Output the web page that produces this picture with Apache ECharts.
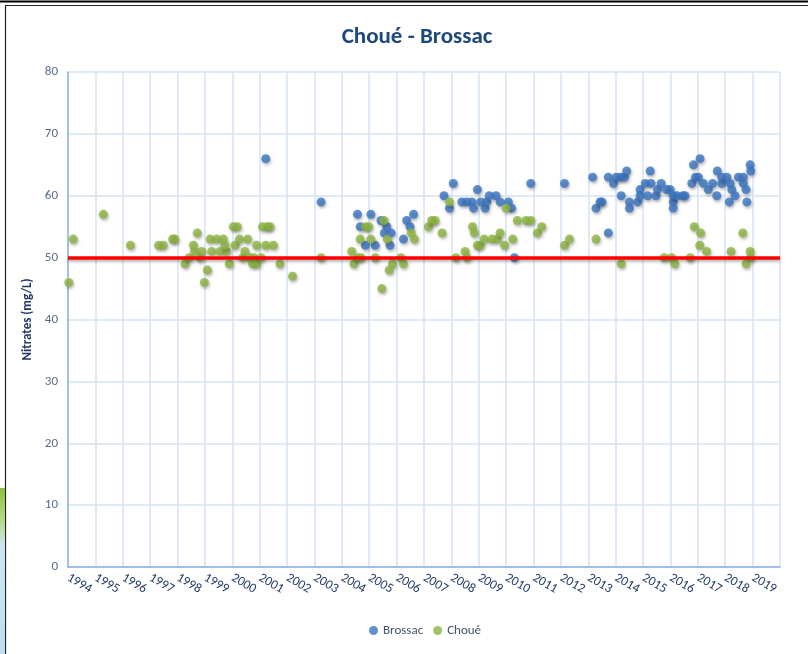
<!DOCTYPE html>
<html>
<head>
<meta charset="utf-8">
<script src="https://cdn.jsdelivr.net/npm/echarts@6/dist/echarts.min.js"></script>
<style>
    html, body {margin: 0; padding: 0; background: #fff;}
    #chart {width: 808px; height: 654px;}
</style>
</head>
<body>
<div id="chart"></div>
<script>
// Brossac (dates as decimal years)
const brossacYears = [
    2001.22, 2003.24, 2004.57, 2004.67, 2004.86, 2005.06, 2005.22, 2005.43, 2005.64, 2005.55,
    2005.80, 2005.76, 2006.25, 2006.37, 2006.49, 2006.62, 2007.73, 2007.93, 2008.07, 2008.38,
    2008.56, 2008.75, 2008.81, 2008.95, 2009.07, 2009.23, 2009.29, 2009.38, 2009.63, 2009.78,
    2010.08, 2010.20, 2010.30, 2010.90, 2012.13, 2013.16, 2013.28, 2013.43, 2013.50, 2013.73,
    2013.73, 2013.92, 2014.02, 2014.17, 2014.32, 2014.40, 2014.20, 2014.50, 2014.50, 2014.80,
    2014.89, 2014.89, 2015.08, 2015.26, 2015.17, 2015.29, 2015.47, 2015.53, 2015.66, 2015.86,
    2015.99, 2016.10, 2016.10, 2016.10, 2016.23, 2016.45, 2016.53, 2016.78, 2016.84, 2017.08,
    2016.91, 2017.02, 2017.20, 2017.38, 2017.54, 2017.71, 2017.69, 2017.87, 2017.87, 2018.06,
    2018.18, 2018.24, 2018.15, 2018.36, 2018.48, 2018.66, 2018.66, 2018.76, 2018.79, 2018.91,
    2018.93
];
const brossacValues = [
    66, 59, 57, 55, 52, 57, 52, 56, 55, 54,
    54, 52, 53, 56, 55, 57, 60, 58, 62, 59,
    59, 59, 58, 61, 59, 58, 59, 60, 60, 59,
    59, 58, 50, 62, 62, 63, 58, 59, 59, 54,
    63, 62, 63, 63, 63, 64, 60, 59, 58, 59,
    61, 60, 62, 64, 60, 62, 60, 61, 62, 61,
    61, 59, 58, 60, 60, 60, 60, 62, 65, 66,
    63, 63, 62, 61, 62, 64, 60, 62, 63, 63,
    62, 61, 59, 60, 63, 63, 62, 61, 59, 65,
    64
];

// Choué
const choueYears = [
    1994.03, 1994.19, 1995.29, 1996.28, 1997.31, 1997.48, 1997.82, 1997.90, 1998.27, 1998.42,
    1998.58, 1998.62, 1998.72, 1998.82, 1998.89, 1998.98, 1999.09, 1999.19, 1999.43, 1999.67,
    1999.25, 1999.55, 1999.79, 1999.73, 1999.89, 2000.04, 2000.18, 2000.10, 2000.26, 2000.38,
    2000.46, 2000.56, 2000.64, 2000.79, 2000.74, 2000.89, 2000.89, 2001.05, 2001.10, 2001.28,
    2001.38, 2001.22, 2001.50, 2001.74, 2002.20, 2003.24, 2004.36, 2004.44, 2004.57, 2004.70,
    2004.86, 2004.98, 2004.67, 2005.06, 2005.22, 2005.54, 2005.66, 2005.46, 2005.85, 2005.73,
    2006.16, 2006.25, 2006.53, 2006.65, 2007.16, 2007.28, 2007.40, 2007.66, 2007.93, 2008.17,
    2008.50, 2008.56, 2008.77, 2008.84, 2008.95, 2009.05, 2009.20, 2009.48, 2009.68, 2009.78,
    2009.94, 2010.00, 2010.24, 2010.41, 2010.73, 2010.90, 2011.14, 2011.30, 2012.13, 2012.31,
    2013.28, 2014.20, 2015.77, 2016.04, 2016.16, 2016.72, 2016.87, 2017.10, 2017.07, 2017.32,
    2018.21, 2018.64, 2018.91, 2018.93, 2018.76
];
const choueValues = [
    46, 53, 57, 52, 52, 52, 53, 53, 49, 50,
    52, 51, 54, 50, 51, 46, 48, 53, 53, 53,
    51, 51, 51, 52, 49, 55, 55, 52, 53, 50,
    51, 53, 50, 50, 49, 49, 52, 50, 55, 55,
    55, 52, 52, 49, 47, 50, 51, 49, 50, 50,
    55, 55, 53, 53, 50, 56, 53, 45, 49, 48,
    50, 49, 54, 53, 55, 56, 56, 54, 59, 50,
    51, 50, 55, 54, 52, 52, 53, 53, 53, 54,
    52, 58, 53, 56, 56, 56, 54, 55, 52, 53,
    53, 49, 50, 50, 49, 50, 55, 54, 52, 51,
    51, 54, 51, 50, 49
];

const seuil = 50;
const yearMin = 1994;
const yearMax = 2020;

const font = 'Carlito, "Liberation Sans Narrow", "DejaVu Sans Condensed", sans-serif';
const zip = (xs, ys) => xs.map((x, i) => [x, ys[i]]);
const shadow = {shadowBlur: 3, shadowColor: 'rgba(0,0,0,0.35)', shadowOffsetX: 1, shadowOffsetY: 2};

const chart = echarts.init(document.getElementById('chart'));
chart.setOption({
    animation: false,
    backgroundColor: '#fff',
    title: {
        text: 'Choué - Brossac',
        left: 412,
        top: 21,
        textAlign: 'center',
        textStyle: {fontFamily: font, fontSize: 23, fontWeight: 'bold', color: '#1F497D'}
    },
    legend: {
        bottom: 12,
        left: 364,
        icon: 'circle',
        itemWidth: 9,
        itemHeight: 9,
        itemGap: 10,
        textStyle: {fontFamily: font, fontSize: 13, color: '#44546A'},
        data: ['Brossac', 'Choué']
    },
    grid: {left: 68, right: 28, top: 72, bottom: 87, containLabel: false},
    xAxis: {
        type: 'value',
        min: yearMin,
        max: yearMax,
        interval: 1,
        axisLine: {show: true, onZero: false, lineStyle: {color: '#8DB3E2', width: 1.5}},
        axisTick: {show: false},
        splitLine: {show: true, lineStyle: {color: '#D6E3F3', width: 1.5}},
        axisLabel: {
            rotate: -30,
            margin: 10,
            fontFamily: font,
            fontSize: 13,
            color: '#1F3864',
            formatter: v => (v < yearMax ? String(v) : '')
        }
    },
    yAxis: {
        type: 'value',
        min: 0,
        max: 80,
        interval: 10,
        name: 'Nitrates (mg/L)',
        nameLocation: 'middle',
        nameGap: 34,
        nameTextStyle: {fontFamily: font, fontSize: 13, fontWeight: 'bold', color: '#1F3864'},
        axisLine: {show: true, lineStyle: {color: '#8DB3E2', width: 1.5}},
        axisTick: {show: false},
        splitLine: {show: true, lineStyle: {color: '#D6E3F3', width: 1.5}},
        axisLabel: {fontFamily: font, fontSize: 13, color: '#5A6B8C', margin: 10}
    },
    series: [
        {
            name: 'Brossac',
            type: 'scatter',
            symbolSize: 9,
            itemStyle: Object.assign({color: '#3A74C2'}, shadow),
            data: zip(brossacYears, brossacValues),
            markLine: {
                silent: true,
                symbol: 'none',
                label: {show: false},
                lineStyle: {color: '#FF0000', width: 3.5, type: 'solid',
                    shadowBlur: 3, shadowColor: 'rgba(0,0,0,0.3)', shadowOffsetY: 2},
                data: [{yAxis: seuil}]
            },
            z: 2
        },
        {
            name: 'Choué',
            type: 'scatter',
            symbolSize: 9,
            itemStyle: Object.assign({color: '#8CB440'}, shadow),
            data: zip(choueYears, choueValues),
            z: 3
        }
    ],
    graphic: [
        {type: 'line', shape: {x1: 0, y1: 1.5, x2: 808, y2: 1.5}, style: {stroke: '#000', lineWidth: 2}},
        {type: 'polyline', shape: {points: [[5.5, 654], [5.5, 5.5], [808, 5.5]]}, style: {stroke: '#222', lineWidth: 1.2, fill: null}},
        {type: 'rect', shape: {x: 0, y: 488, width: 5, height: 166},
            style: {fill: new echarts.graphic.LinearGradient(0, 0, 0, 1, [
                {offset: 0, color: '#8CBF3F'}, {offset: 0.2, color: '#B9D98A'},
                {offset: 0.35, color: '#CDE6F2'}, {offset: 1, color: '#BFDDF0'}])}}
    ]
});
</script>
</body>
</html>
